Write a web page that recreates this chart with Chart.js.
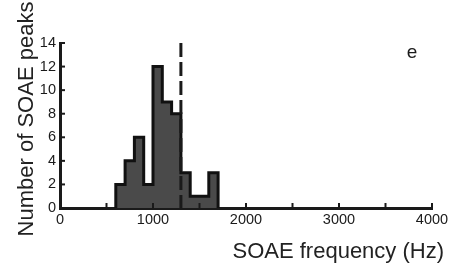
<!DOCTYPE html>
<html>
<head>
<meta charset="utf-8">
<script src="https://cdn.jsdelivr.net/npm/chart.js@4"></script>
<style>
  html, body { margin: 0; padding: 0; background: #fff; }
  canvas { display: block; }
</style>
</head>
<body>
<canvas id="chart" width="452" height="268"></canvas>
<script>
// histogram bins (Hz) and counts per bin
const binEdges = [600, 700, 800, 900, 1000, 1100, 1200, 1300, 1400, 1500, 1600, 1700];
const binCounts = [2, 4, 6, 2, 12, 9, 8, 3, 1, 1, 3];
// dashed marker
const markerFreq = 1300;
const markerTop = 14;
// axes
const xTicks = [0, 1000, 2000, 3000, 4000];
const yTicks = [0, 2, 4, 6, 8, 10, 12, 14];

const INK = '#1a1a1a';
const FONT = '"Liberation Sans", Arial, Helvetica, sans-serif';

// outline points for a stepped ('after') line: each point carries the bin height up to its x
const histPoints = [{ x: binEdges[0], y: 0 }];
binCounts.forEach((c, i) => histPoints.push({ x: binEdges[i + 1], y: c }));
histPoints.push({ x: binEdges[binEdges.length - 1], y: 0 });

// small inward tick marks, panel letter and the axis titles
const extras = {
    id: 'extras',
    afterDraw(chart) {
        const { ctx, chartArea, scales } = chart;
        ctx.save();
        ctx.strokeStyle = INK;
        ctx.lineWidth = 2;
        scales.x.ticks.forEach(t => {
            const px = scales.x.getPixelForValue(t.value);
            ctx.beginPath();
            ctx.moveTo(px, chartArea.bottom);
            ctx.lineTo(px, chartArea.bottom - 5);
            ctx.stroke();
        });
        scales.y.ticks.forEach(t => {
            const py = scales.y.getPixelForValue(t.value);
            ctx.beginPath();
            ctx.moveTo(chartArea.left, py);
            ctx.lineTo(chartArea.left + 5, py);
            ctx.stroke();
        });

        ctx.fillStyle = INK;
        ctx.font = '19px ' + FONT;
        ctx.textAlign = 'center';
        ctx.textBaseline = 'alphabetic';
        ctx.fillText('e', chartArea.right - 20, chartArea.top + 15);

        ctx.fillStyle = '#222';
        ctx.font = '22px ' + FONT;
        ctx.textAlign = 'right';
        ctx.fillText('SOAE frequency (Hz)', chartArea.right + 12, chartArea.bottom + 50);

        // y title, rotated, sits a little above the plot's middle
        ctx.translate(chartArea.left - 27, chartArea.top + 76);
        ctx.rotate(-Math.PI / 2);
        ctx.textAlign = 'center';
        ctx.fillText('Number of SOAE peaks', 0, 0);
        ctx.restore();
    }
};

new Chart(document.getElementById('chart'), {
    type: 'line',
    data: {
        datasets: [
            {
                data: [{ x: markerFreq, y: markerTop }, { x: markerFreq, y: 0 }],
                borderColor: INK,
                borderWidth: 3,
                borderDash: [14, 5],
                borderCapStyle: 'butt',
                pointRadius: 0,
                fill: false
            },
            {
                data: histPoints,
                stepped: 'after',
                borderColor: '#111',
                borderWidth: 3,
                borderJoinStyle: 'miter',
                backgroundColor: '#4a4a4a',
                pointRadius: 0,
                fill: 'origin'
            }
        ]
    },
    options: {
        responsive: false,
        animation: false,
        layout: { padding: { top: 43, right: 20, left: 0, bottom: 0 } },
        plugins: { legend: { display: false }, tooltip: { enabled: false } },
        scales: {
            x: {
                type: 'linear',
                min: 0,
                max: 4000,
                z: 1,
                afterFit: s => { s.height = 60; },
                grid: { display: false, drawTicks: false },
                border: { display: true, color: INK, width: 3 },
                afterBuildTicks: s => {
                    const ticks = [];
                    for (let v = 0; v <= 4000; v += 500) ticks.push({ value: v });
                    s.ticks = ticks;
                },
                ticks: {
                    autoSkip: false,
                    maxRotation: 0,
                    padding: 3,
                    color: INK,
                    font: { family: FONT, size: 14.5 },
                    callback: v => xTicks.includes(v) ? String(v) : ''
                }
            },
            y: {
                min: 0,
                max: 14,
                z: 1,
                afterFit: s => { s.width = 60; },
                grid: { display: false, drawTicks: false },
                border: { display: true, color: INK, width: 3 },
                afterBuildTicks: s => { s.ticks = yTicks.map(v => ({ value: v })); },
                ticks: {
                    padding: 4,
                    color: INK,
                    font: { family: FONT, size: 14.5 }
                }
            }
        }
    },
    plugins: [extras]
});
</script>
</body>
</html>
